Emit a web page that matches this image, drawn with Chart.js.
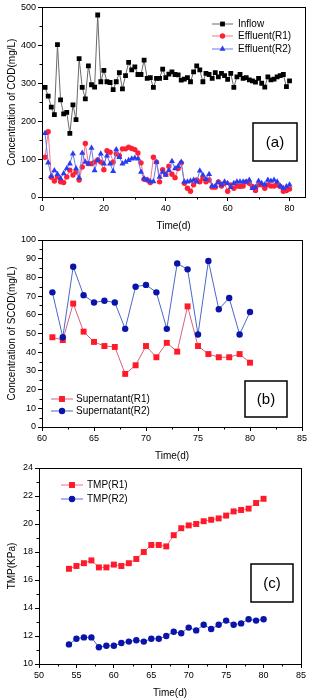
<!DOCTYPE html>
<html>
<head>
<meta charset="utf-8">
<script src="https://cdn.jsdelivr.net/npm/chart.js@4"></script>
<style>
  body { margin: 0; background: #fff; width: 311px; height: 699px; position: relative; overflow: hidden; }
  canvas { position: absolute; left: 0; }
</style>
</head>
<body>
<canvas id="chartA" width="311" height="236" style="top:0px"></canvas>
<canvas id="chartB" width="311" height="234" style="top:232px"></canvas>
<canvas id="chartC" width="311" height="239" style="top:460px"></canvas>
<script>
// (a) COD, days 1..80
const inflow = [289, 266, 237, 217, 402, 256, 219, 223, 168, 243, 204, 365, 289, 259, 346, 296, 290, 480, 304, 334,
  304, 302, 283, 304, 328, 285, 320, 355, 335, 343, 323, 323, 361, 313, 315, 289, 313, 313, 337, 315,
  324, 330, 323, 322, 308, 311, 315, 304, 330, 346, 335, 304, 326, 323, 313, 328, 317, 326, 320, 310,
  326, 289, 317, 323, 313, 315, 309, 306, 303, 313, 300, 290, 317, 309, 311, 317, 320, 323, 291, 306];
const effluentR1 = [105, 172, 52, 42, 53, 40, 38, 53, 71, 58, 66, 45, 79, 141, 88, 88, 92, 98, 92, 72,
  122, 118, 92, 114, 109, 127, 127, 131, 128, 125, 116, 90, 47, 45, 38, 105, 92, 40, 72, 60,
  81, 60, 51, 75, 90, 36, 23, 15, 32, 45, 40, 49, 40, 45, 26, 26, 40, 29, 36, 15,
  32, 23, 29, 28, 29, 40, 36, 28, 17, 32, 32, 23, 32, 29, 29, 32, 28, 15, 17, 21];
const effluentR2 = [168, 90, 55, 70, 60, 49, 62, 75, 88, 114, 75, 51, 116, 92, 88, 129, 70, 97, 114, 88,
  109, 88, 68, 125, 105, 88, 92, 97, 101, 103, 101, 66, 49, 45, 41, 41, 92, 53, 66, 58,
  70, 94, 75, 81, 92, 40, 40, 42, 45, 40, 69, 58, 47, 60, 29, 29, 38, 32, 40, 36,
  26, 36, 40, 40, 40, 40, 45, 23, 26, 42, 36, 32, 45, 42, 45, 40, 29, 23, 28, 32];
const daysA = inflow.map((v, i) => i + 1);
const ticksAx = [0, 20, 40, 60, 80];
const ticksAy = [0, 100, 200, 300, 400, 500];

// (b) SCOD, days 61..80
const daysB = [61, 62, 63, 64, 65, 66, 67, 68, 69, 70, 71, 72, 73, 74, 75, 76, 77, 78, 79, 80];
const superR1 = [48, 46.5, 66, 51, 45.5, 43.3, 42.8, 28.4, 33, 43.3, 37.3, 45, 40.3, 64.5, 43.3, 39, 37.3, 37.3, 39, 34.4];
const superR2 = [72, 48, 85.7, 70.5, 66.6, 67.5, 66.6, 52.5, 75, 76, 72, 52.5, 87.5, 84.3, 49.5, 88.8, 63, 69, 49.5, 61.5];
const ticksBx = [60, 65, 70, 75, 80, 85];
const ticksBy = [0, 10, 20, 30, 40, 50, 60, 70, 80, 90, 100];

// (c) TMP, days 54..80
const daysC = [54, 55, 56, 57, 58, 59, 60, 61, 62, 63, 64, 65, 66, 67, 68, 69, 70, 71, 72, 73, 74, 75, 76, 77, 78, 79, 80];
const tmpR1 = [16.8, 17.0, 17.2, 17.4, 16.9, 16.9, 17.1, 17.0, 17.2, 17.5, 18.0, 18.5, 18.5, 18.4, 19.2, 19.7, 19.9,
  20.0, 20.2, 20.3, 20.4, 20.6, 20.9, 21.0, 21.1, 21.5, 21.8];
const tmpR2 = [11.4, 11.8, 11.9, 11.9, 11.2, 11.3, 11.3, 11.5, 11.6, 11.7, 11.6, 11.8, 11.8, 12.0, 12.3, 12.2, 12.6,
  12.4, 12.8, 12.5, 12.8, 13.1, 12.8, 12.9, 13.2, 13.1, 13.2];
const ticksCx = [50, 55, 60, 65, 70, 75, 80, 85];
const ticksCy = [10, 12, 14, 16, 18, 20, 22, 24];

const FONT = '"Liberation Sans", Arial, sans-serif';
const pts = (xs, ys) => ys.map((v, i) => ({ x: xs[i], y: v }));

function drawMarker(ctx, style, x, y, r, color) {
  ctx.fillStyle = color;
  ctx.beginPath();
  if (style === 'rect') {
    const s = r * Math.SQRT1_2;
    ctx.rect(x - s, y - s, 2 * s, 2 * s);
  } else if (style === 'triangle') {
    ctx.moveTo(x, y - r);
    ctx.lineTo(x + r * 0.866, y + r * 0.5);
    ctx.lineTo(x - r * 0.866, y + r * 0.5);
    ctx.closePath();
  } else {
    ctx.arc(x, y, r, 0, Math.PI * 2);
  }
  ctx.fill();
}

// frame, minor ticks, legend and the (a)/(b)/(c) tag
const decor = {
  id: 'decor',
  afterDraw(chart, args, o) {
    const ctx = chart.ctx, a = chart.chartArea;
    const sx = chart.scales.x, sy = chart.scales.y;
    ctx.save();
    ctx.strokeStyle = '#000';
    ctx.lineWidth = 1;
    ctx.strokeRect(Math.round(a.left) + 0.5, Math.round(a.top) + 0.5, Math.round(a.right - a.left), Math.round(a.bottom - a.top));

    ctx.beginPath();
    for (let v = sx.min + o.minorX; v < sx.max; v += o.minorX * 2) {
      const px = Math.round(sx.getPixelForValue(v)) + 0.5;
      ctx.moveTo(px, a.bottom); ctx.lineTo(px, a.bottom + 2.5);
    }
    for (let v = sy.min + o.minorY; v < sy.max; v += o.minorY * 2) {
      const py = Math.round(sy.getPixelForValue(v)) + 0.5;
      ctx.moveTo(a.left, py); ctx.lineTo(a.left - 2.5, py);
    }
    ctx.stroke();

    const lg = o.legend;
    ctx.font = '10px ' + FONT;
    ctx.textBaseline = 'middle';
    chart.data.datasets.forEach((ds, i) => {
      const y = lg.ys[i];
      ctx.strokeStyle = ds.borderColor;
      ctx.lineWidth = 1;
      ctx.beginPath(); ctx.moveTo(lg.x0, y); ctx.lineTo(lg.x1, y); ctx.stroke();
      drawMarker(ctx, ds.pointStyle, (lg.x0 + lg.x1) / 2, y, ds.pointRadius, ds.pointBackgroundColor);
      ctx.fillStyle = '#000';
      ctx.fillText(ds.label, lg.tx, y);
    });

    const t = o.tag;
    ctx.lineWidth = 1.5;
    ctx.strokeStyle = '#000';
    ctx.strokeRect(t.x, t.y, t.w, t.h);
    ctx.font = 'normal 15px ' + FONT;
    ctx.fillStyle = '#000';
    ctx.textAlign = 'center';
    ctx.fillText(t.text, t.x + t.w / 2, t.y + t.h / 2 + 1);
    ctx.restore();
  }
};

function axes(xt, yt, yw, xh, xpad, ytitle) {
  const tickFont = { family: FONT, size: 9 };
  const titleFont = { family: FONT, size: 10 };
  const fixed = list => s => { s.ticks = list.map(v => ({ value: v })); };
  return {
    x: {
      type: 'linear', min: xt[0], max: xt[xt.length - 1] === 80 ? 85 : xt[xt.length - 1],
      ticks: { color: '#000', font: tickFont, padding: 2, maxRotation: 0 },
      grid: { drawOnChartArea: false, tickLength: 4, tickColor: '#000' },
      border: { color: '#000' },
      title: { display: true, text: 'Time(d)', color: '#000', font: titleFont, padding: { top: 0, bottom: xpad } },
      afterBuildTicks: fixed(xt),
      afterFit: s => { s.height = xh; }
    },
    y: {
      type: 'linear', min: yt[0], max: yt[yt.length - 1],
      ticks: { color: '#000', font: tickFont, padding: 2 },
      grid: { drawOnChartArea: false, tickLength: 4, tickColor: '#000' },
      border: { color: '#000' },
      title: { display: true, text: ytitle, color: '#000', font: titleFont, padding: { top: 6, bottom: 0 } },
      afterBuildTicks: fixed(yt),
      afterFit: s => { s.width = yw; }
    }
  };
}

function series(label, xs, ys, style, r, mark, line, order) {
  return {
    label: label, data: pts(xs, ys), order: order,
    borderColor: line, borderWidth: 1,
    pointStyle: style, pointRadius: r, pointHoverRadius: r,
    pointBackgroundColor: mark, pointBorderColor: mark, pointBorderWidth: 0,
    tension: 0
  };
}

const common = {
  responsive: false, animation: false, devicePixelRatio: 1,
  plugins: { legend: { display: false }, tooltip: { enabled: false } }
};

new Chart(document.getElementById('chartA'), {
  type: 'line',
  data: {
    datasets: [
      series('Inflow', daysA, inflow, 'rect', 3.4, '#000000', '#6a6a6a', 2),
      series('Effluent(R1)', daysA, effluentR1, 'circle', 2.7, '#ff2035', '#ff6f8a', 1),
      series('Effluent(R2)', daysA, effluentR2, 'triangle', 3.5, '#2a3cf0', '#6a78e8', 0)
    ]
  },
  options: Object.assign({}, common, {
    layout: { padding: { top: 5, right: 6, left: 0, bottom: 0 } },
    scales: axes(ticksAx, ticksAy, 42, 39, 4, 'Concentration of COD(mg/L)'),
    plugins: Object.assign({}, common.plugins, {
      decor: { minorX: 10, minorY: 50, legend: { x0: 212, x1: 233, tx: 238, ys: [24, 36, 49] },
        tag: { x: 253, y: 123, w: 44, h: 38, text: '(a)' } }
    })
  }),
  plugins: [decor]
});

new Chart(document.getElementById('chartB'), {
  type: 'line',
  data: {
    datasets: [
      series('Supernatant(R1)', daysB, superR1, 'rect', 4.2, '#ff1a2a', '#d8607e', 1),
      series('Supernatant(R2)', daysB, superR2, 'circle', 3.2, '#0a14a8', '#4a68c8', 0)
    ]
  },
  options: Object.assign({}, common, {
    layout: { padding: { top: 8, right: 9, left: 0, bottom: 0 } },
    scales: axes(ticksBx, ticksBy, 42, 39, 4, 'Concentration of SCOD(mg/L)'),
    plugins: Object.assign({}, common.plugins, {
      decor: { minorX: 2.5, minorY: 5, legend: { x0: 51, x1: 73, tx: 76, ys: [167, 179] },
        tag: { x: 245, y: 149, w: 42, h: 36, text: '(b)' } }
    })
  }),
  plugins: [decor]
});

new Chart(document.getElementById('chartC'), {
  type: 'line',
  data: {
    datasets: [
      series('TMP(R1)', daysC, tmpR1, 'rect', 4.2, '#ff1a2a', '#ff6a88', 1),
      series('TMP(R2)', daysC, tmpR2, 'circle', 3.2, '#0a14a8', '#5a6ad8', 0)
    ]
  },
  options: Object.assign({}, common, {
    layout: { padding: { top: 8, right: 10, left: 0, bottom: 0 } },
    scales: axes(ticksCx, ticksCy, 39, 35, 0, 'TMP(KPa)'),
    plugins: Object.assign({}, common.plugins, {
      decor: { minorX: 2.5, minorY: 1, legend: { x0: 61, x1: 83, tx: 87, ys: [25, 39] },
        tag: { x: 251, y: 104, w: 42, h: 38, text: '(c)' } }
    })
  }),
  plugins: [decor]
});
</script>
</body>
</html>
